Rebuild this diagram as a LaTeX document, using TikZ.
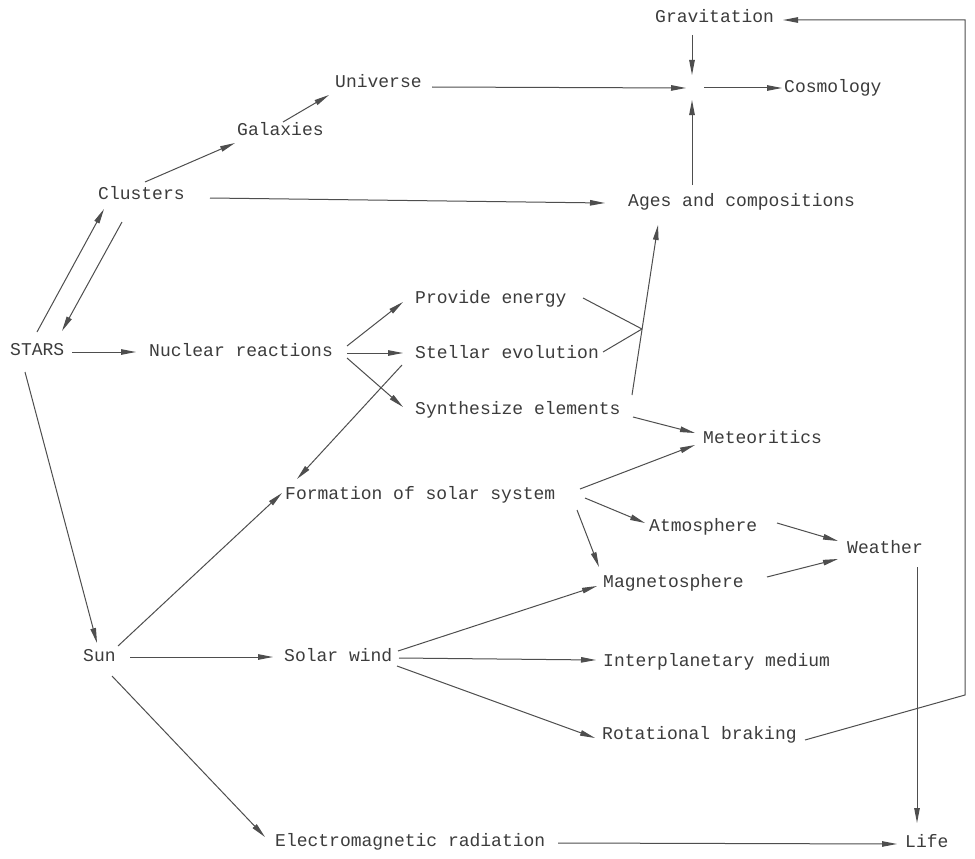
\documentclass[tikz,border=0pt]{standalone}
\usepackage{fontspec}
\setmainfont{Liberation Mono}
\usetikzlibrary{arrows.meta}
\definecolor{ink}{HTML}{3C3C3C}
\definecolor{wire}{HTML}{4E4E4E}
\begin{document}
\begin{tikzpicture}[x=1pt,y=-1pt,
  lbl/.style={anchor=west,inner sep=0pt,text height=9pt,text depth=0pt,
    font=\fontsize{18pt}{20pt}\selectfont,text=ink},
  conn/.style={draw=wire,line width=1pt},
  arr/.style={conn,-{Triangle[length=15pt,width=5.5pt]}}]
\useasboundingbox[fill=white] (0,0) rectangle (975,859);
% nodes
\node[lbl] (grav)  at (655,18)  {Gravitation};
\node[lbl] (univ)  at (335,83)  {Universe};
\node[lbl] (cosmo) at (784,88)  {Cosmology};
\coordinate (J1) at (692,88);
\node[lbl] (gal)   at (237,131) {Galaxies};
\node[lbl] (clus)  at (98,195)  {Clusters};
\node[lbl] (ages)  at (628,202) {Ages and compositions};
\node[lbl] (prov)  at (415,299) {Provide energy};
\node[lbl] (stars) at (10,351)  {STARS};
\node[lbl] (nuc)   at (149,352) {Nuclear reactions};
\node[lbl] (stel)  at (415,354) {Stellar evolution};
\coordinate (J2) at (642,329);
\node[lbl] (synth) at (415,410) {Synthesize elements};
\node[lbl] (met)   at (703,439) {Meteoritics};
\node[lbl] (form)  at (285,495) {Formation of solar system};
\node[lbl] (atm)   at (649,527) {Atmosphere};
\node[lbl] (wea)   at (847,549) {Weather};
\node[lbl] (mag)   at (603,583) {Magnetosphere};
\node[lbl] (sun)   at (83,657)  {Sun};
\node[lbl] (sw)    at (284,657) {Solar wind};
\node[lbl] (ipm)   at (603,662) {Interplanetary medium};
\node[lbl] (rot)   at (602,735) {Rotational braking};
\node[lbl] (em)    at (275,842) {Electromagnetic radiation};
\node[lbl] (life)  at (905,843) {Life};
% connectors
\draw[arr] ([shift={(97,4)}]univ.west) -- ([shift={(-6,0)}]J1);
\draw[arr] ([shift={(37,17)}]grav.west) -- ([shift={(0,-13)}]J1);
\draw[arr] ([shift={(64,-17)}]ages.west) -- ([shift={(0,12)}]J1);
\draw[arr] ([shift={(12,0)}]J1) -- ([shift={(-2,0)}]cosmo.west);
\draw[arr] ([shift={(46,-9)}]gal.west) -- ([shift={(-6,12)}]univ.west);
\draw[arr] ([shift={(47,-13)}]clus.west) -- ([shift={(-2,12)}]gal.west);
\draw[arr] ([shift={(112,3)}]clus.west) -- ([shift={(-23,1)}]ages.west);
\draw[arr] ([shift={(27,-19)}]stars.west) -- ([shift={(6,14)}]clus.west);
\draw[arr] ([shift={(24,27)}]clus.west) -- ([shift={(52,-20)}]stars.west);
\draw[arr] ([shift={(62,1)}]stars.west) -- ([shift={(-13,0)}]nuc.west);
\draw[arr] ([shift={(15,21)}]stars.west) -- ([shift={(14,-14)}]sun.west);
\draw[arr] ([shift={(198,-6)}]nuc.west) -- ([shift={(-12,3)}]prov.west);
\draw[arr] ([shift={(198,1)}]nuc.west) -- ([shift={(-12,-1)}]stel.west);
\draw[arr] ([shift={(198,6)}]nuc.west) -- ([shift={(-12,-3)}]synth.west);
\draw[conn] ([shift={(168,-1)}]prov.west) -- (J2);
\draw[conn] ([shift={(188,-2)}]stel.west) -- (J2);
\draw[arr] ([shift={(217,-15)}]synth.west) -- ([shift={(30,23)}]ages.west);
\draw[arr] ([shift={(-13,11)}]stel.west) -- ([shift={(12,-16)}]form.west);
\draw[arr] ([shift={(218,7)}]synth.west) -- ([shift={(-8,-6)}]met.west);
\draw[arr] ([shift={(295,-6)}]form.west) -- ([shift={(-8,6)}]met.west);
\draw[arr] ([shift={(300,3)}]form.west) -- ([shift={(-4,-4)}]atm.west);
\draw[arr] ([shift={(292,15)}]form.west) -- ([shift={(-4,-16)}]mag.west);
\draw[arr] ([shift={(128,-4)}]atm.west) -- ([shift={(-9,-8)}]wea.west);
\draw[arr] ([shift={(164,-6)}]mag.west) -- ([shift={(-9,10)}]wea.west);
\draw[arr] ([shift={(70,18)}]wea.west) -- ([shift={(12,-20)}]life.west);
\draw[arr] ([shift={(35,-11)}]sun.west) -- ([shift={(-3,-2)}]form.west);
\draw[arr] ([shift={(47,0)}]sun.west) -- ([shift={(-11,0)}]sw.west);
\draw[arr] ([shift={(114,-6)}]sw.west) -- ([shift={(-6,3)}]mag.west);
\draw[arr] ([shift={(115,1)}]sw.west) -- ([shift={(-7,-2)}]ipm.west);
\draw[arr] ([shift={(113,9)}]sw.west) -- ([shift={(-7,3)}]rot.west);
\draw[arr] ([shift={(203,5)}]rot.west) -- ++(160,-45) |- ([shift={(128,2)}]grav.west);
\draw[arr] ([shift={(29,19)}]sun.west) -- ([shift={(-10,-5)}]em.west);
\draw[arr] ([shift={(283,1)}]em.west) -- ([shift={(-8,1)}]life.west);
\end{tikzpicture}
\end{document}
